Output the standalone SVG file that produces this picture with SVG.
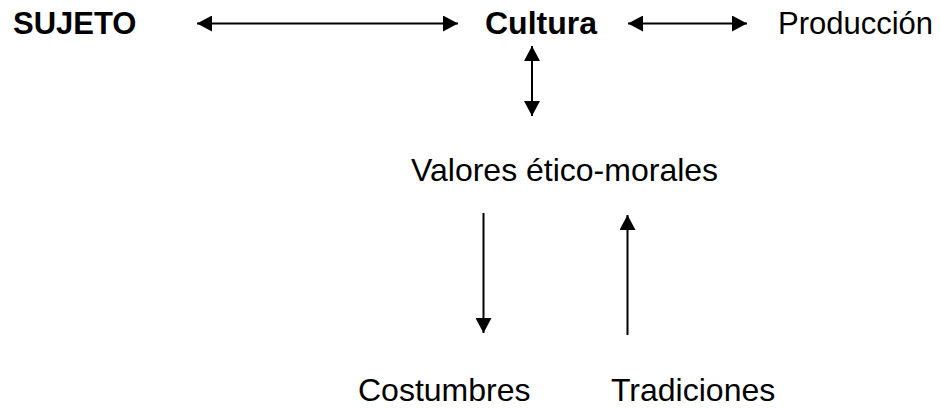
<svg xmlns="http://www.w3.org/2000/svg" width="940" height="408" viewBox="0 0 940 408">
<defs>
<style>
text{font-family:"Liberation Sans",Arial,sans-serif;font-size:32px;fill:#000}
.b{font-weight:bold}
.s31{font-size:31px}
.c{stroke:#000;stroke-width:2;fill:none}
</style>
<marker id="ah" viewBox="0 0 15 16" refX="15" refY="8" markerWidth="15" markerHeight="16" markerUnits="userSpaceOnUse" orient="auto-start-reverse">
<path d="M0,0 L15,8 L0,16 z" fill="#000"/>
</marker>
</defs>
<rect width="940" height="408" fill="#fff"/>
<g id="sujeto"><text class="b s31" x="13" y="34">SUJETO</text></g>
<g id="cultura"><text class="b" x="485" y="34">Cultura</text></g>
<g id="produccion"><text class="s31" x="778" y="34">Producción</text></g>
<g id="valores"><text x="411" y="181">Valores ético-morales</text></g>
<g id="costumbres"><text x="358" y="401">Costumbres</text></g>
<g id="tradiciones"><text x="611" y="401">Tradiciones</text></g>
<g id="connectors">
<line class="c" x1="197" y1="23.5" x2="458" y2="23.5" marker-start="url(#ah)" marker-end="url(#ah)"/>
<line class="c" x1="628" y1="23.5" x2="747" y2="23.5" marker-start="url(#ah)" marker-end="url(#ah)"/>
<line class="c" x1="532" y1="46" x2="532" y2="116" marker-start="url(#ah)" marker-end="url(#ah)"/>
<line class="c" x1="483.5" y1="213" x2="483.5" y2="333" marker-end="url(#ah)"/>
<line class="c" x1="627.5" y1="335" x2="627.5" y2="215" marker-end="url(#ah)"/>
</g>
</svg>
